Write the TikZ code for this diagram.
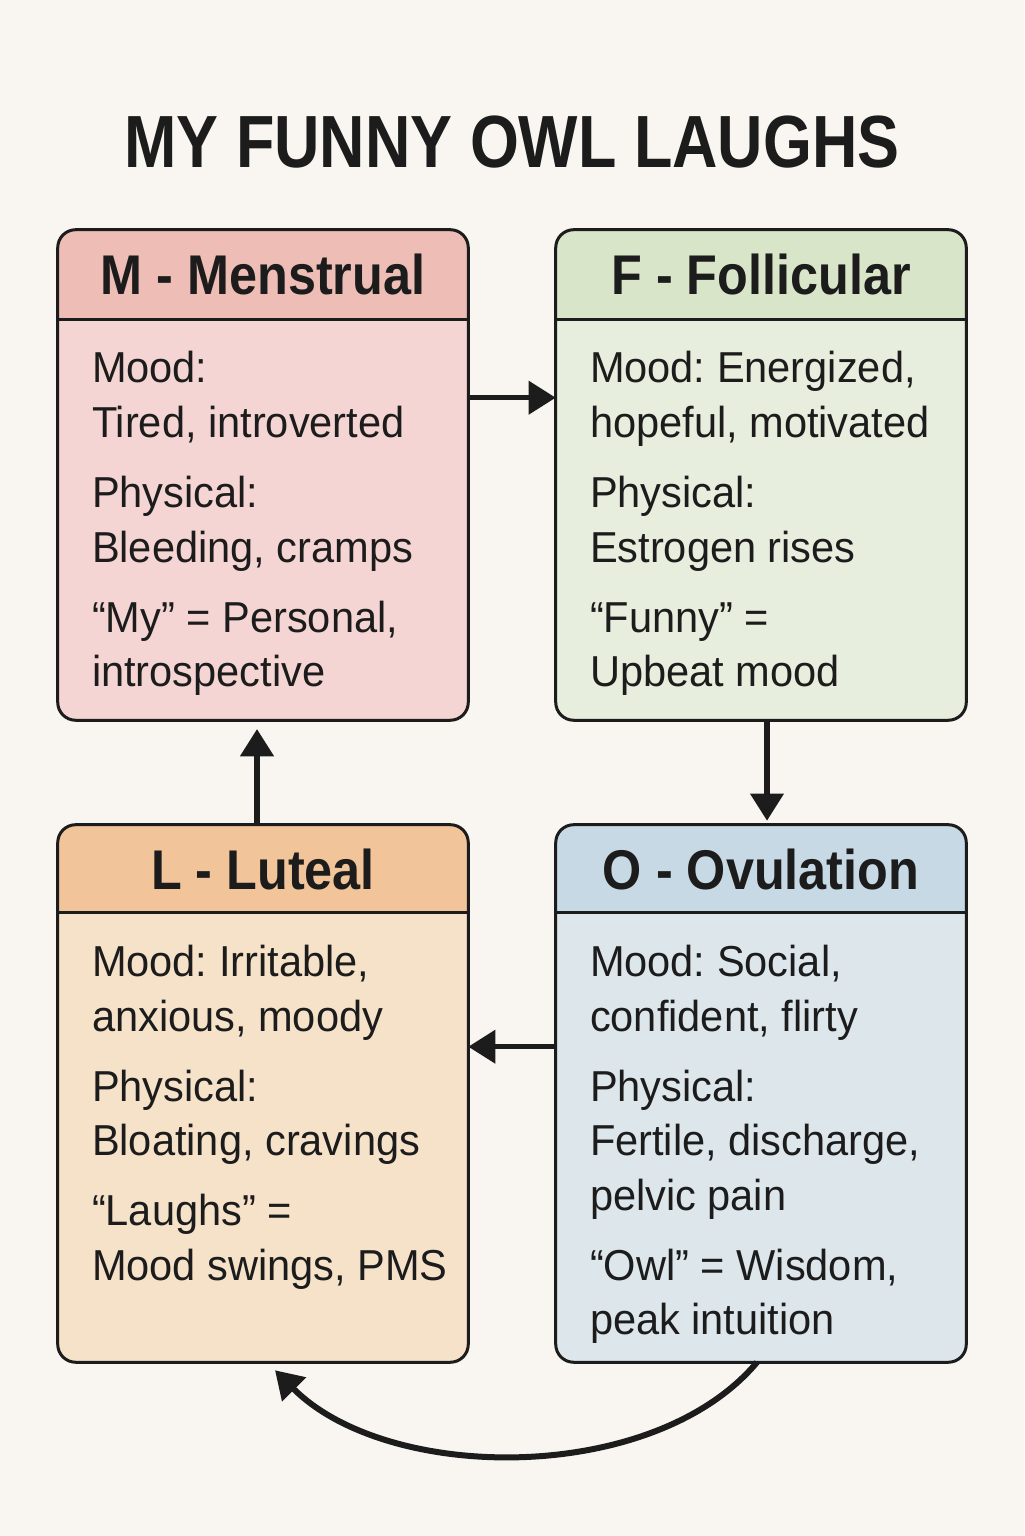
\documentclass[tikz,border=0pt]{standalone}
\usepackage{fontspec}
\setmainfont{Liberation Sans}[FakeStretch=0.96]
\newfontfamily\titlefont{Liberation Sans}[FakeStretch=0.85]
\newfontfamily\headfont{Liberation Sans}[FakeStretch=0.9]
\usetikzlibrary{arrows.meta,positioning}
\frenchspacing
\newcommand{\firstline}{\rule{0pt}{24pt}}
\tikzset{
  phasebox/.style={inner sep=0pt, minimum width=10.25cm},
  phaseedge/.style={draw=r28g28b28, line width=0.075cm, rounded corners=0.45cm},
  phasetitle/.style={anchor=base, text=r28g28b28, font=\headfont\bfseries\fontsize{39.8pt}{46pt}\selectfont},
  phasetext/.style={anchor=north west, align=left, inner sep=0pt, text=r28g28b28, font=\fontsize{30.8pt}{38.8pt}\selectfont},
  cyclearrow/.style={draw=r28g28b28, line width=0.13cm, -{Triangle[width=0.82cm,length=0.68cm]}}
}
\begin{document}
\begin{tikzpicture}
                                % Changing color 249 246 241
                                \definecolor{r249g246b241}{rgb}{0.976471,0.964706,0.945098}%
                                % Changing color 28 28 28
                                \definecolor{r28g28b28}{rgb}{0.109804,0.109804,0.109804}%
                                \definecolor{r237g189b182}{rgb}{0.929412,0.741176,0.713725}%
                                \definecolor{r244g213b211}{rgb}{0.956863,0.835294,0.827451}%
                                \definecolor{r216g229b201}{rgb}{0.847059,0.898039,0.788235}%
                                \definecolor{r231g238b221}{rgb}{0.905882,0.933333,0.866667}%
                                \definecolor{r198g217b229}{rgb}{0.776471,0.850980,0.898039}%
                                \definecolor{r220g230b235}{rgb}{0.862745,0.901961,0.921569}%
                                \definecolor{r242g196b153}{rgb}{0.949020,0.768627,0.600000}%
                                \definecolor{r245g226b201}{rgb}{0.960784,0.886275,0.788235}%

                                % Drawing background
                                \fill [r249g246b241] (0.000000,0.000000) rectangle (25.600000,38.400000);%
                                \useasboundingbox (0.000000,0.000000) rectangle (25.600000,38.400000);%

                                % Marking title
                                \node [anchor=base, text=r28g28b28, font=\titlefont\bfseries\fontsize{52.6pt}{60pt}\selectfont] (title) at (12.800000,34.200000) {MY FUNNY OWL LAUGHS};%

                                % Drawing box M
                                \node [phasebox, fill=r244g213b211, rounded corners=0.45cm, minimum height=12.25cm] (M) at (6.575000,26.525000) {};%
                                \begin{scope}
                                \clip [rounded corners=0.45cm] (M.south west) rectangle (M.north east);%
                                \fill [r237g189b182] (M.north west) rectangle ([yshift=-2.25cm]M.north east);%
                                \end{scope}
                                \draw [phaseedge] ([yshift=-2.25cm]M.north west) -- ([yshift=-2.25cm]M.north east);%
                                \draw [phaseedge] (M.south west) rectangle (M.north east);%
                                \node [phasetitle] (Mtitle) at ([yshift=-1.625cm]M.north) {M - Menstrual};%
                                \node [phasetext] (Mtext) at ([xshift=0.85cm,yshift=-2.98cm]M.north west)
                                  {\firstline Mood:\\Tired, introverted\\[11pt]Physical:\\Bleeding, cramps\\[11pt]“My” = Personal,\\introspective};%

                                % Drawing box F
                                \node [phasebox, fill=r231g238b221, rounded corners=0.45cm, minimum height=12.25cm] (F) at (19.025000,26.525000) {};%
                                \begin{scope}
                                \clip [rounded corners=0.45cm] (F.south west) rectangle (F.north east);%
                                \fill [r216g229b201] (F.north west) rectangle ([yshift=-2.25cm]F.north east);%
                                \end{scope}
                                \draw [phaseedge] ([yshift=-2.25cm]F.north west) -- ([yshift=-2.25cm]F.north east);%
                                \draw [phaseedge] (F.south west) rectangle (F.north east);%
                                \node [phasetitle] (Ftitle) at ([yshift=-1.625cm]F.north) {F - Follicular};%
                                \node [phasetext] (Ftext) at ([xshift=0.85cm,yshift=-2.98cm]F.north west)
                                  {\firstline Mood: Energized,\\hopeful, motivated\\[11pt]Physical:\\Estrogen rises\\[11pt]“Funny” =\\Upbeat mood};%

                                % Drawing box L
                                \node [phasebox, fill=r245g226b201, rounded corners=0.45cm, minimum height=13.425cm] (L) at (6.575000,11.062500) {};%
                                \begin{scope}
                                \clip [rounded corners=0.45cm] (L.south west) rectangle (L.north east);%
                                \fill [r242g196b153] (L.north west) rectangle ([yshift=-2.2cm]L.north east);%
                                \end{scope}
                                \draw [phaseedge] ([yshift=-2.2cm]L.north west) -- ([yshift=-2.2cm]L.north east);%
                                \draw [phaseedge] (L.south west) rectangle (L.north east);%
                                \node [phasetitle] (Ltitle) at ([yshift=-1.625cm]L.north) {L - Luteal};%
                                \node [phasetext] (Ltext) at ([xshift=0.85cm,yshift=-2.95cm]L.north west)
                                  {\firstline Mood: Irritable,\\anxious, moody\\[11pt]Physical:\\Bloating, cravings\\[11pt]“Laughs” =\\Mood swings, PMS};%

                                % Drawing box O
                                \node [phasebox, fill=r220g230b235, rounded corners=0.45cm, minimum height=13.425cm] (O) at (19.025000,11.062500) {};%
                                \begin{scope}
                                \clip [rounded corners=0.45cm] (O.south west) rectangle (O.north east);%
                                \fill [r198g217b229] (O.north west) rectangle ([yshift=-2.2cm]O.north east);%
                                \end{scope}
                                \draw [phaseedge] ([yshift=-2.2cm]O.north west) -- ([yshift=-2.2cm]O.north east);%
                                \draw [phaseedge] (O.south west) rectangle (O.north east);%
                                \node [phasetitle] (Otitle) at ([yshift=-1.625cm]O.north) {O - Ovulation};%
                                \node [phasetext] (Otext) at ([xshift=0.85cm,yshift=-2.95cm]O.north west)
                                  {\firstline Mood: Social,\\confident, flirty\\[11pt]Physical:\\Fertile, discharge,\\pelvic pain\\[11pt]“Owl” = Wisdom,\\peak intuition};%

                                % Drawing arrows M F O L
                                \draw [cyclearrow] ([yshift=-4.2cm]M.north east) -- ([yshift=-4.2cm]F.north west);%
                                \draw [cyclearrow, shorten >=0.1cm] ([xshift=0.15cm]F.south) -- ([xshift=0.15cm]O.north);%
                                \draw [cyclearrow] ([yshift=-5.55cm]O.north west) -- ([yshift=-5.55cm]L.north east);%
                                \draw [cyclearrow, shorten >=0.22cm] ([xshift=-0.15cm]L.north) -- ([xshift=-0.15cm]M.south);%

                                % Drawing arc O L
                                \coordinate (Lend) at ([xshift=0.3cm,yshift=-0.2cm]L.south);%
                                \draw [cyclearrow, line width=0.15cm] ([xshift=-0.1cm]O.south) to [out=-130, in=-45, looseness=0.85] (Lend);%
\end{tikzpicture}
\end{document}
